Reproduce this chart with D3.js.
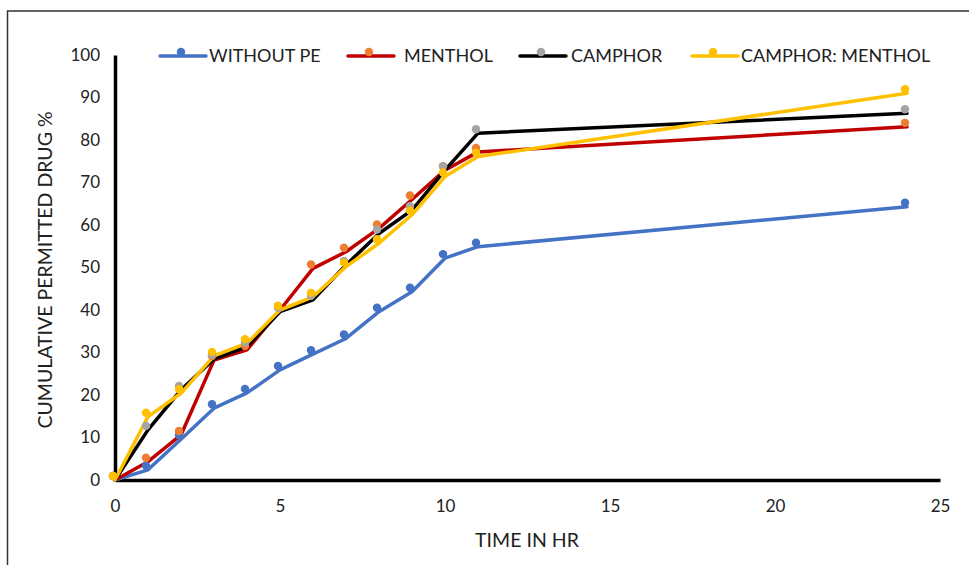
<!DOCTYPE html>
<html>
<head>
<meta charset="utf-8">
<script src="https://cdn.jsdelivr.net/npm/d3@7"></script>
<style>
  body { margin: 0; background: #fff; }
  text { font-family: Lato, "Open Sans", sans-serif; fill: #222; }
</style>
</head>
<body>
<div id="chart"></div>
<script>
// data
var hours = [0, 1, 2, 3, 4, 5, 6, 7, 8, 9, 10, 11, 24];
var withoutPE = [0, 2.4, 9.6, 16.9, 20.5, 25.9, 29.6, 33.3, 39.6, 44.3, 52.2, 54.9, 64.3];
var menthol = [0, 4.3, 10.6, 28.2, 30.6, 40, 49.8, 53.7, 59.2, 66, 72.9, 77.2, 83.1];
var camphor = [0, 11.8, 21.2, 28.5, 31.4, 39.6, 42.4, 50.6, 58, 63.5, 72.9, 81.6, 86.3];
var camphorMenthol = [0, 14.9, 20.4, 29.2, 32.2, 40, 43.1, 50.2, 55.7, 62.4, 71.4, 76.1, 91];
var seriesNames = ["WITHOUT PE", "MENTHOL", "CAMPHOR", "CAMPHOR: MENTHOL"];
var lineColors = ["#4472c4", "#c00000", "#000000", "#ffc000"];
var markerColors = ["#4472c4", "#ed7d31", "#a5a5a5", "#ffc000"];
var xTicks = [0, 5, 10, 15, 20, 25];
var yTicks = [0, 10, 20, 30, 40, 50, 60, 70, 80, 90, 100];

var width = 969, height = 565;
var svg = d3.select("#chart").append("svg")
    .attr("width", width).attr("height", height);

// outer frame
svg.append("rect")
    .attr("x", 7.5).attr("y", 11)
    .attr("width", 1000).attr("height", 600)
    .attr("fill", "none").attr("stroke", "#333").attr("stroke-width", 1.5);

var x = d3.scaleLinear().domain([0, 25]).range([115, 940]);
var y = d3.scaleLinear().domain([0, 100]).range([480, 55]);

// axes
var yAxis = svg.append("g").attr("transform", "translate(115,0)")
    .call(d3.axisLeft(y).tickValues(yTicks).tickSize(0).tickPadding(15));
var xAxis = svg.append("g").attr("transform", "translate(0,480)")
    .call(d3.axisBottom(x).tickValues(xTicks).tickSize(0).tickPadding(20));
[yAxis, xAxis].forEach(function(a) {
  a.select(".domain").attr("stroke", "#000").attr("stroke-width", 3.5);
  a.selectAll("text").style("font-size", "17px").style("font-family", "Lato, sans-serif").attr("fill", "#222");
});

svg.append("text")
    .attr("x", 527).attr("y", 547)
    .attr("text-anchor", "middle")
    .style("font-size", "19.5px")
    .text("TIME IN HR");
svg.append("text")
    .attr("transform", "translate(52,270) rotate(-90)")
    .attr("text-anchor", "middle")
    .style("font-size", "19.5px")
    .text("CUMULATIVE PERMITTED DRUG %");

var allSeries = [withoutPE, menthol, camphor, camphorMenthol];

var line = d3.line()
    .x(function(d, i) { return x(hours[i]); })
    .y(function(d) { return y(d); });

allSeries.forEach(function(vals, s) {
  svg.append("path")
      .datum(vals)
      .attr("d", line)
      .attr("fill", "none")
      .attr("stroke", lineColors[s])
      .attr("stroke-width", 3.5)
      .attr("stroke-linejoin", "round")
      .attr("stroke-linecap", "round");
});

allSeries.forEach(function(vals, s) {
  svg.append("g").selectAll("circle")
      .data(vals)
      .enter().append("circle")
      .attr("cx", function(d, i) { return x(hours[i]) - 2; })
      .attr("cy", function(d) { return y(d) - 4; })
      .attr("r", 4.2)
      .attr("fill", markerColors[s]);
});

// legend
var legendX = [160, 348, 520, 692];
var legendTextX = [209, 404, 571, 741];
var legend = svg.append("g");
seriesNames.forEach(function(name, s) {
  var g = legend.append("g").attr("transform", "translate(" + legendX[s] + ",56)");
  g.append("line").attr("x1", 0).attr("x2", 46)
      .attr("stroke", lineColors[s]).attr("stroke-width", 3.5).attr("stroke-linecap", "round");
  g.append("circle").attr("cx", 21).attr("cy", -4).attr("r", 4.2).attr("fill", markerColors[s]);
  g.append("text").attr("x", legendTextX[s] - legendX[s]).attr("y", 6)
      .style("font-size", "18px")
      .text(name);
});
</script>
</body>
</html>
